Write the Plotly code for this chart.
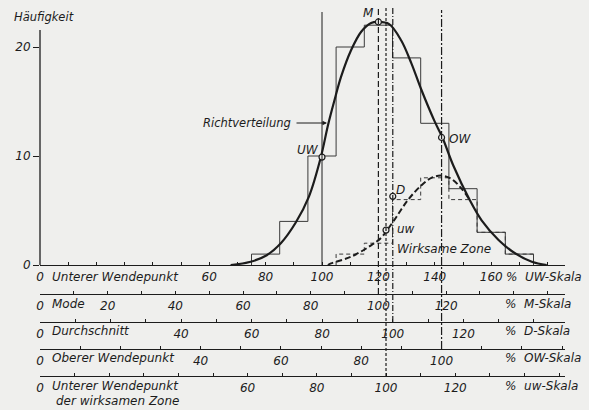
import plotly.graph_objects as go

# ---------------- data ----------------
# step histogram of the "Richtverteilung" (UW-scale %, counts)
bin_centers = [80, 90, 100, 110, 120, 130, 140, 150, 160, 170]
counts = [1, 4, 10, 20, 22, 19, 13, 7, 3, 1]
# dashed histogram of the "wirksame Zone"
zone_centers = [110, 120, 130, 140, 150, 160, 170]
zone_counts = [1, 2, 6, 8, 6, 3, 1]
BIN_WIDTH = 10

# smooth curve "Richtverteilung"
curve_x = [67.6, 74.7, 80.4, 85.4, 90.7, 95.4, 99.6, 102.1, 104.3, 106.8, 110.3,
           113.9, 117.4, 119.9, 123.8, 128.1, 131.7, 135.2, 139.9, 142.7, 146.6,
           152.3, 156.6, 162.6, 168.3, 174.4, 179.7]
curve_y = [0, 0.3, 0.9, 2.0, 3.9, 6.3, 9.9, 12.8, 15.0, 17.3, 19.7,
           21.4, 22.2, 22.3, 22.1, 20.6, 18.5, 16.1, 13.2, 11.7, 9.1,
           6.0, 4.1, 2.3, 1.1, 0.3, 0]

# dashed curve "wirksame Zone"
zone_x = [102.1, 103.2, 110.3, 117.4, 121.0, 123.1, 125.3, 130.6, 135.2, 138.8,
          142.3, 145.9, 149.5, 152.3]
zone_y = [0, 0.15, 0.76, 1.8, 2.5, 3.2, 4.0, 6.0, 7.3, 8.0,
          8.2, 7.9, 7.0, 6.0]

# characteristic points (position on UW-scale, height)
char_names = ["UW", "M", "uw", "D", "OW"]
char_pos = {"UW": 100.0, "M": 120.0, "uw": 122.7, "D": 125.1, "OW": 142.4}
char_val = {"UW": 9.9, "M": 22.3, "uw": 3.2, "D": 6.3, "OW": 11.7}

# scale tick labels
uw_big_labels = [0, 60, 80, 100, 120, 140, 160]
m_labels = [0, 20, 40, 60, 80, 100, 120]
d_labels = [0, 40, 60, 80, 100, 120]
ow_labels = [0, 40, 60, 80, 100]
uwz_labels = [0, 60, 80, 100, 120]
y_labels = [0, 10, 20]

# ---------------- layout geometry ----------------
W, H = 589, 410
ML, MR, MT, MB = 40, 24, 5, 5
PW = W - ML - MR
PH = H - MT - MB
XMAX = PW / 2.82          # UW-scale units across the plot width
Y_BASE_PX = 265
YMAX = (Y_BASE_PX - MT) / 10.9


def fx(px):
    return (px - ML) / PW


def fy(py):
    return (H - MB - py) / PH


INK = "#1c1c1c"
BG = "#efefed"
FONT = "DejaVu Sans"
tfont = dict(family=FONT, size=12, color=INK, style="italic")


def step_outline(centers, values, width):
    xs = [centers[0] - width / 2] + [c - width / 2 for c in centers] + [centers[-1] + width / 2]
    ys = [0] + list(values) + [0]
    return xs, ys


fig = go.Figure()

hx, hy = step_outline(bin_centers, counts, BIN_WIDTH)
fig.add_trace(go.Scatter(x=hx, y=hy, mode="lines", line=dict(shape="hv", color="#3a3a3a", width=1),
                         showlegend=False, hoverinfo="skip"))
zx, zy = step_outline(zone_centers, zone_counts, BIN_WIDTH)
fig.add_trace(go.Scatter(x=zx, y=zy, mode="lines",
                         line=dict(shape="hv", color="#3a3a3a", width=1, dash="4px,3px"),
                         showlegend=False, hoverinfo="skip"))

fig.add_trace(go.Scatter(x=curve_x, y=curve_y, mode="lines",
                         line=dict(shape="spline", smoothing=1.0, color=INK, width=2.2),
                         showlegend=False, hoverinfo="skip"))
fig.add_trace(go.Scatter(x=zone_x, y=zone_y, mode="lines",
                         line=dict(shape="spline", smoothing=1.0, color=INK, width=2.0, dash="6px,3px"),
                         showlegend=False, hoverinfo="skip"))

fig.add_trace(go.Scatter(x=[char_pos[n] for n in char_names], y=[char_val[n] for n in char_names],
                         mode="markers", cliponaxis=False,
                         marker=dict(symbol="circle", size=6, color=BG, line=dict(color=INK, width=1.2)),
                         showlegend=False, hoverinfo="skip"))

# vertical characteristic lines (xref x, y in paper)
vlines = [
    ("UW", 12, 265, "solid", 1.0),
    ("M", 8, 294, "6px,3px", 1.2),
    ("uw", 8, 376, "3px,2px", 1.2),
    ("D", 8, 322, "6px,2px,1px,2px", 1.2),
    ("OW", 10, 349, "8px,2px,2px,2px", 1.2),
]
shapes = []
for name, top, bot, dash, wd in vlines:
    shapes.append(dict(type="line", xref="x", yref="paper", x0=char_pos[name], x1=char_pos[name],
                       y0=fy(bot), y1=fy(top), line=dict(color=INK, width=wd, dash=dash)))
# y axis line
shapes.append(dict(type="line", xref="paper", yref="paper", x0=0, x1=0, y0=fy(Y_BASE_PX), y1=fy(30),
                   line=dict(color=INK, width=1.3)))

layout_axes = {}


def scale_axis(labels, vmax, position, overlay=True):
    ticks = list(range(0, int(vmax) + 1, 10))
    d = dict(range=[0, vmax], tickmode="array", tickvals=ticks,
             ticktext=[str(t) if t in labels else "" for t in ticks],
             ticks="inside", ticklen=3, tickwidth=1, tickcolor=INK,
             showline=True, linecolor=INK, linewidth=1.3, showgrid=False, zeroline=False,
             tickfont=tfont, fixedrange=True, automargin=False)
    if overlay:
        d.update(overlaying="x", anchor="free", position=position, side="bottom")
    return d


xaxis = scale_axis(uw_big_labels, XMAX, None, overlay=False)
xaxis.update(domain=[0, 1], anchor="y")

scales = [
    ("x2", m_labels, char_pos["M"], 294),
    ("x3", d_labels, char_pos["D"], 322),
    ("x4", ow_labels, char_pos["OW"], 349),
    ("x5", uwz_labels, char_pos["uw"], 376),
]
for ax_id, labels, ref, ypx in scales:
    vmax = XMAX * 100.0 / ref
    layout_axes["xaxis" + ax_id[1:]] = scale_axis(labels, vmax, fy(ypx))
    fig.add_trace(go.Scatter(x=[], y=[], xaxis=ax_id, yaxis="y", showlegend=False, hoverinfo="skip"))

annotations = []


def txt(s, px, py, xanchor="left", size=12):
    annotations.append(dict(text=s, xref="paper", yref="paper", x=fx(px), y=fy(py), showarrow=False,
                            xanchor=xanchor, yanchor="middle",
                            font=dict(family=FONT, size=size, color=INK, style="italic")))


txt("Häufigkeit", 12, 17, size=11.5)
txt("Unterer Wendepunkt", 50, 277)
txt("Mode", 50, 304)
txt("Durchschnitt", 50, 331)
txt("Oberer Wendepunkt", 50, 358)
txt("Unterer Wendepunkt", 50, 386)
txt("der wirksamen Zone", 54, 401)
txt("%  UW-Skala", 504, 277)
txt("%  M-Skala", 503, 304)
txt("%  D-Skala", 503, 331)
txt("%  OW-Skala", 503, 358)
txt("%  uw-Skala", 503, 386)

# labels of characteristic points
txt("M", 368, 13, xanchor="center")
txt("UW", 308, 150, xanchor="center")
txt("OW", 460, 139, xanchor="center")
txt("D", 400, 190, xanchor="center")
txt("uw", 406, 229, xanchor="center")
txt("Wirksame Zone", 395, 249)
txt("Richtverteilung", 293, 123, xanchor="right", size=11.5)

# arrow pointing to the curve
annotations.append(dict(text="", x=fx(327), y=fy(123), xref="paper", yref="paper",
                        ax=-32, ay=0, showarrow=True, arrowhead=2, arrowsize=0.9,
                        arrowwidth=1, arrowcolor=INK))

fig.update_layout(
    width=W, height=H,
    margin=dict(l=ML, r=MR, t=MT, b=MB, autoexpand=False),
    paper_bgcolor=BG, plot_bgcolor=BG,
    xaxis=xaxis,
    yaxis=dict(domain=[fy(Y_BASE_PX), 1], range=[0, YMAX], tickmode="array", tickvals=y_labels,
               ticktext=[str(v) for v in y_labels], ticks="outside", ticklen=6, tickcolor=INK,
               showline=False, showgrid=False, zeroline=False, tickfont=tfont, fixedrange=True,
               automargin=False),
    shapes=shapes,
    annotations=annotations,
    showlegend=False,
    **layout_axes,
)

fig.write_html("out.html", config={"displayModeBar": False},
               post_script="document.body.style.margin='0';document.body.style.padding='0';"
                           "document.body.style.background='" + BG + "';")
